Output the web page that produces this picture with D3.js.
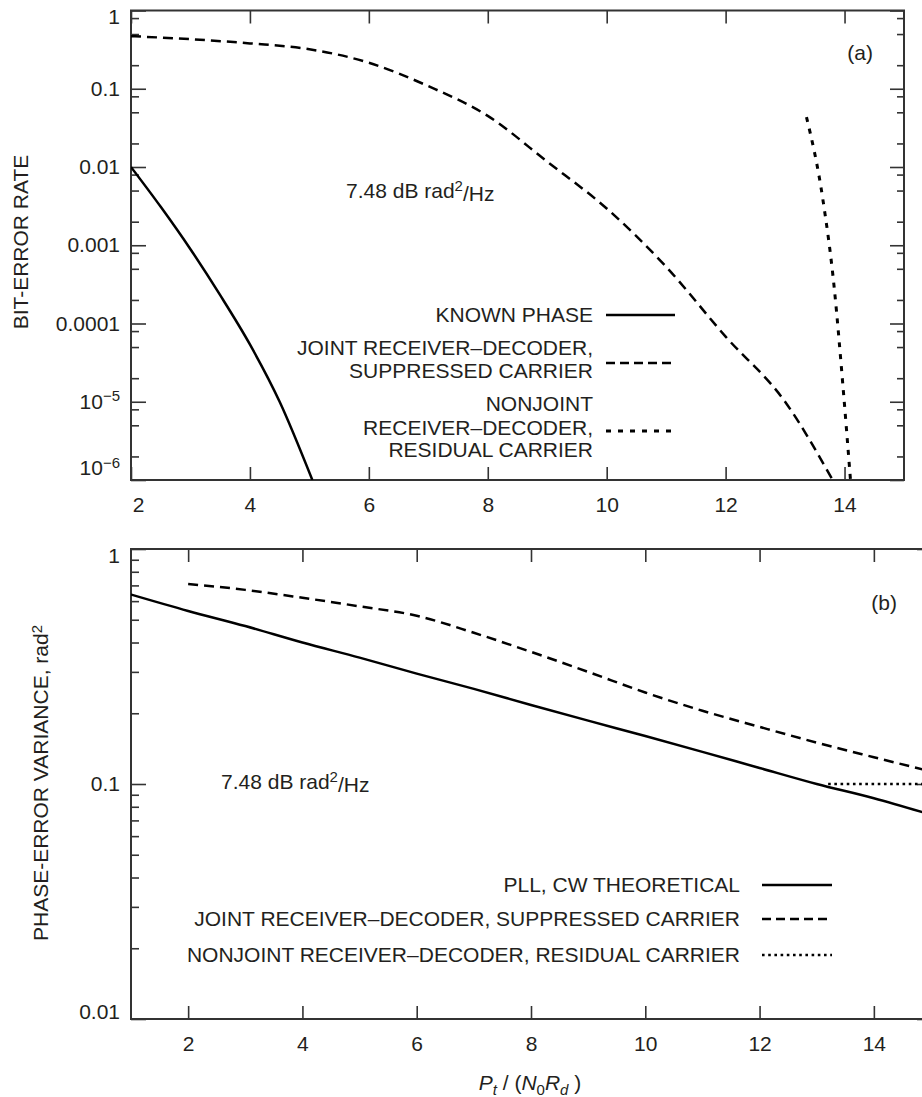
<!DOCTYPE html>
<html>
<head>
<meta charset="utf-8">
<script src="https://cdn.jsdelivr.net/npm/d3@7"></script>
<style>
body { margin: 0; background: #fff; }
text { font-family: "Liberation Sans", Arial, Helvetica, sans-serif; fill: #231f20; font-size: 21px; }
</style>
</head>
<body>
<svg id="chart" width="922" height="1097"></svg>
<script>
// ---- panel (a): bit-error rate vs Pt/(N0 Rd) ----
var knownPhaseX   = [2, 2.5, 3, 3.5, 4, 4.5, 5.05];
var knownPhaseBer = [1e-2, 3.1e-3, 8.9e-4, 2.3e-4, 5.4e-5, 1.0e-5, 1e-6];

var jointX   = [2, 3, 4, 5, 6, 7, 8, 9, 10, 11, 12, 13, 13.8];
var jointBer = [0.47, 0.43, 0.38, 0.32, 0.215, 0.108, 0.045, 0.0117, 2.95e-3, 5.3e-4, 6.8e-5, 1e-5, 1e-6];

var nonjointX   = [13.36, 13.63, 13.83, 13.97, 14.1];
var nonjointBer = [0.0435, 4.1e-3, 2.7e-4, 1.7e-5, 1e-6];

var topXTicks  = [2, 4, 6, 8, 10, 12, 14];
var topYMajor  = [1, 0.1, 0.01, 0.001, 0.0001, 1e-5, 1e-6];
var topYLabels = ["1", "0.1", "0.01", "0.001", "0.0001", "10^\u22125", "10^\u22126"];
var topMinorMult = [2, 5, 8];

// ---- panel (b): phase-error variance ----
var pllX   = [1, 2, 3, 4, 5, 6, 7, 8, 9, 10, 11, 12, 13, 14, 15];
var pllVar = [0.64, 0.545, 0.47, 0.40, 0.345, 0.295, 0.254, 0.217, 0.186, 0.16, 0.137, 0.117, 0.1, 0.087, 0.074];

var suppX   = [2, 3, 4, 5, 6, 7, 8, 9, 10, 11, 12, 13, 14, 15];
var suppVar = [0.71, 0.67, 0.62, 0.57, 0.52, 0.44, 0.365, 0.30, 0.245, 0.205, 0.175, 0.15, 0.13, 0.113];

var residX   = [13.2, 15];
var residVar = [0.1, 0.1];

var botXTicks  = [2, 4, 6, 8, 10, 12, 14];
var botYMajor  = [1, 0.1, 0.01];
var botYLabels = ["1", "0.1", "0.01"];
var botMinorMult = [2, 3, 4, 5, 6, 7, 8, 9];

var svg = d3.select("#chart");
var FONT = "'Liberation Sans', Arial, Helvetica, sans-serif";

function zip(a, b) { return a.map(function(v, i) { return [v, b[i]]; }); }

function minorTicks(major, mult) {
  var out = [];
  major.forEach(function(m) {
    if (m >= 1) return;
    mult.forEach(function(k) { out.push(m * k); });
  });
  return out;
}

function writeLabel(sel, s) {
  sel.text(null);
  var parts = s.split("^");
  sel.append("tspan").text(parts[0]);
  if (parts[1]) {
    sel.append("tspan").attr("dy", "-0.5em").style("font-size", "15px").text(parts[1]);
  }
}

function drawPanel(id, x, y, o) {
  var g = svg.append("g").attr("id", id);
  var x0 = x.range()[0], x1 = x.range()[1];
  var y0 = y.range()[1], y1 = y.range()[0];

  g.append("clipPath").attr("id", id + "-clip")
    .append("rect").attr("x", x0).attr("y", y0).attr("width", x1 - x0).attr("height", y1 - y0);

  // bottom axis with labels, ticks inward
  var bx = g.append("g").attr("transform", "translate(0," + y1 + ")")
    .call(d3.axisBottom(x).tickValues(o.xTicks).tickSize(-13).tickPadding(17).tickFormat(d3.format("d")));
  // top ticks
  var tx = g.append("g").attr("transform", "translate(0," + y0 + ")")
    .call(d3.axisTop(x).tickValues(o.xTicks).tickSize(-13).tickFormat(""));
  // left major + minor
  var ly = g.append("g").attr("transform", "translate(" + x0 + ",0)")
    .call(d3.axisLeft(y).tickValues(o.yMajor).tickSize(-15).tickPadding(11)
      .tickFormat(function(d, i) { return o.yLabels[i]; }));
  var lm = g.append("g").attr("transform", "translate(" + x0 + ",0)")
    .call(d3.axisLeft(y).tickValues(o.yMinor).tickSize(-8).tickFormat(""));
  // right major + minor
  var ry = g.append("g").attr("transform", "translate(" + x1 + ",0)")
    .call(d3.axisRight(y).tickValues(o.yMajor).tickSize(-14).tickFormat(""));
  var rm = g.append("g").attr("transform", "translate(" + x1 + ",0)")
    .call(d3.axisRight(y).tickValues(o.yMinor).tickSize(-7).tickFormat(""));

  [bx, tx, ly, lm, ry, rm].forEach(function(a) {
    a.select(".domain").remove();
    a.selectAll("line").attr("stroke", "#333").attr("stroke-width", 1.6);
    a.selectAll("text").attr("font-size", 21).attr("fill", "#231f20").attr("font-family", FONT);
  });

  ly.selectAll(".tick text").each(function(d, i) {
    writeLabel(d3.select(this), o.yLabels[i]);
  });
  // edge labels sit a little inside the frame
  ly.selectAll(".tick text").attr("transform", function(d, i) {
    if (i === 0) return "translate(0," + o.nudgeFirst + ")";
    if (i === o.yMajor.length - 1) return "translate(0," + o.nudgeLast + ")";
    return null;
  });
  bx.selectAll(".tick text").attr("transform", function(d, i) {
    return (i === 0 && o.nudgeX) ? "translate(" + o.nudgeX + ",0)" : null;
  });

  g.append("rect").attr("x", x0).attr("y", y0).attr("width", x1 - x0).attr("height", y1 - y0)
    .attr("fill", "none").attr("stroke", "#333").attr("stroke-width", 2);

  var line = d3.line().x(function(d) { return x(d[0]); }).y(function(d) { return y(d[1]); })
    .curve(d3.curveMonotoneX);
  var plot = g.append("g").attr("clip-path", "url(#" + id + "-clip)");
  o.series.forEach(function(s) {
    plot.append("path").datum(s.data).attr("d", line)
      .attr("fill", "none").attr("stroke", "#000").attr("stroke-width", s.w)
      .attr("stroke-dasharray", s.dash);
  });
  return g;
}

// ---- panel (a) ----
var xA = d3.scaleLinear().domain([2, 15]).range([131, 904]);
var yA = d3.scaleLog().domain([1e-6, 1]).range([480, 10.5]);

var styleSolid = { w: 2.5, dash: null };
var styleDash  = { w: 2.5, dash: "10,6" };
var styleDotA  = { w: 3, dash: "5,7" };
var styleDotB  = { w: 2.5, dash: "2.6,3.6" };

var gA = drawPanel("pa", xA, yA, {
  xTicks: topXTicks, yMajor: topYMajor, yLabels: topYLabels,
  yMinor: minorTicks(topYMajor, topMinorMult),
  nudgeFirst: 6.5, nudgeLast: -12, nudgeX: 7,
  series: [
    { data: zip(knownPhaseX, knownPhaseBer), w: styleSolid.w, dash: styleSolid.dash },
    { data: zip(jointX, jointBer), w: styleDash.w, dash: styleDash.dash },
    { data: zip(nonjointX, nonjointBer), w: styleDotA.w, dash: styleDotA.dash }
  ]
});

gA.append("text").attr("x", 21).attr("y", 242).attr("text-anchor", "middle")
  .attr("transform", "rotate(-90,21,242)").attr("dy", "0.35em").text("BIT-ERROR RATE");

var noteA = gA.append("text").attr("x", 346).attr("y", 198);
noteA.append("tspan").text("7.48 dB rad");
noteA.append("tspan").attr("dy", "-0.45em").style("font-size", "15px").text("2");
noteA.append("tspan").attr("dy", "0.45em").text("/Hz");

gA.append("text").attr("x", 873).attr("y", 60).attr("text-anchor", "end").text("(a)");

var legA = [
  { lines: ["KNOWN PHASE"], ys: [322], ly: 315, s: styleSolid },
  { lines: ["JOINT RECEIVER\u2013DECODER,", "SUPPRESSED CARRIER"], ys: [355, 378], ly: 363, s: styleDash },
  { lines: ["NONJOINT", "RECEIVER\u2013DECODER,", "RESIDUAL CARRIER"], ys: [411, 435, 457], ly: 431, s: styleDotA }
];
legA.forEach(function(e) {
  e.lines.forEach(function(t, i) {
    gA.append("text").attr("x", 593).attr("y", e.ys[i]).attr("text-anchor", "end").text(t);
  });
  gA.append("line").attr("x1", 606).attr("x2", 675).attr("y1", e.ly).attr("y2", e.ly)
    .attr("stroke", "#000").attr("stroke-width", e.s.w).attr("stroke-dasharray", e.s.dash === "10,6" ? "9,5" : e.s.dash);
});

// ---- panel (b) ----
var xB = d3.scaleLinear().domain([1, 15]).range([131, 931]);
var yB = d3.scaleLog().domain([0.01, 1]).range([1019, 549]);

var gB = drawPanel("pb", xB, yB, {
  xTicks: botXTicks, yMajor: botYMajor, yLabels: botYLabels,
  yMinor: minorTicks(botYMajor, botMinorMult),
  nudgeFirst: 7, nudgeLast: -7, nudgeX: 0,
  series: [
    { data: zip(pllX, pllVar), w: styleSolid.w, dash: styleSolid.dash },
    { data: zip(suppX, suppVar), w: styleDash.w, dash: styleDash.dash },
    { data: zip(residX, residVar), w: styleDotB.w, dash: styleDotB.dash }
  ]
});

var yl = gB.append("text").attr("x", 41).attr("y", 783).attr("text-anchor", "middle")
  .attr("transform", "rotate(-90,41,783)").attr("dy", "0.35em");
yl.append("tspan").text("PHASE-ERROR VARIANCE, rad");
yl.append("tspan").attr("dy", "-0.45em").style("font-size", "15px").text("2");

var noteB = gB.append("text").attr("x", 221).attr("y", 789);
noteB.append("tspan").text("7.48 dB rad");
noteB.append("tspan").attr("dy", "-0.45em").style("font-size", "15px").text("2");
noteB.append("tspan").attr("dy", "0.45em").text("/Hz");

gB.append("text").attr("x", 897).attr("y", 610).attr("text-anchor", "end").text("(b)");

var legB = [
  { t: "PLL, CW THEORETICAL", y: 885, s: styleSolid, dash: null },
  { t: "JOINT RECEIVER\u2013DECODER, SUPPRESSED CARRIER", y: 919, s: styleDash, dash: "9,5" },
  { t: "NONJOINT RECEIVER\u2013DECODER, RESIDUAL CARRIER", y: 955, s: styleDotB, dash: styleDotB.dash }
];
legB.forEach(function(e) {
  gB.append("text").attr("x", 740).attr("y", e.y).attr("dy", "0.35em").attr("text-anchor", "end").text(e.t);
  gB.append("line").attr("x1", 762).attr("x2", 832).attr("y1", e.y).attr("y2", e.y)
    .attr("stroke", "#000").attr("stroke-width", e.s.w).attr("stroke-dasharray", e.dash);
});

// x label: Pt / (N0 Rd)
var xl = svg.append("text").attr("x", 530).attr("y", 1090).attr("text-anchor", "middle");
xl.append("tspan").style("font-style", "italic").text("P");
xl.append("tspan").style("font-style", "italic").style("font-size", "15px").attr("dy", "5").text("t");
xl.append("tspan").attr("dy", "-5").text(" / (");
xl.append("tspan").style("font-style", "italic").text("N");
xl.append("tspan").style("font-size", "15px").attr("dy", "5").text("0");
xl.append("tspan").style("font-style", "italic").attr("dy", "-5").text("R");
xl.append("tspan").style("font-style", "italic").style("font-size", "15px").attr("dy", "5").text("d");
xl.append("tspan").attr("dy", "-5").text(" )");
</script>
</body>
</html>
